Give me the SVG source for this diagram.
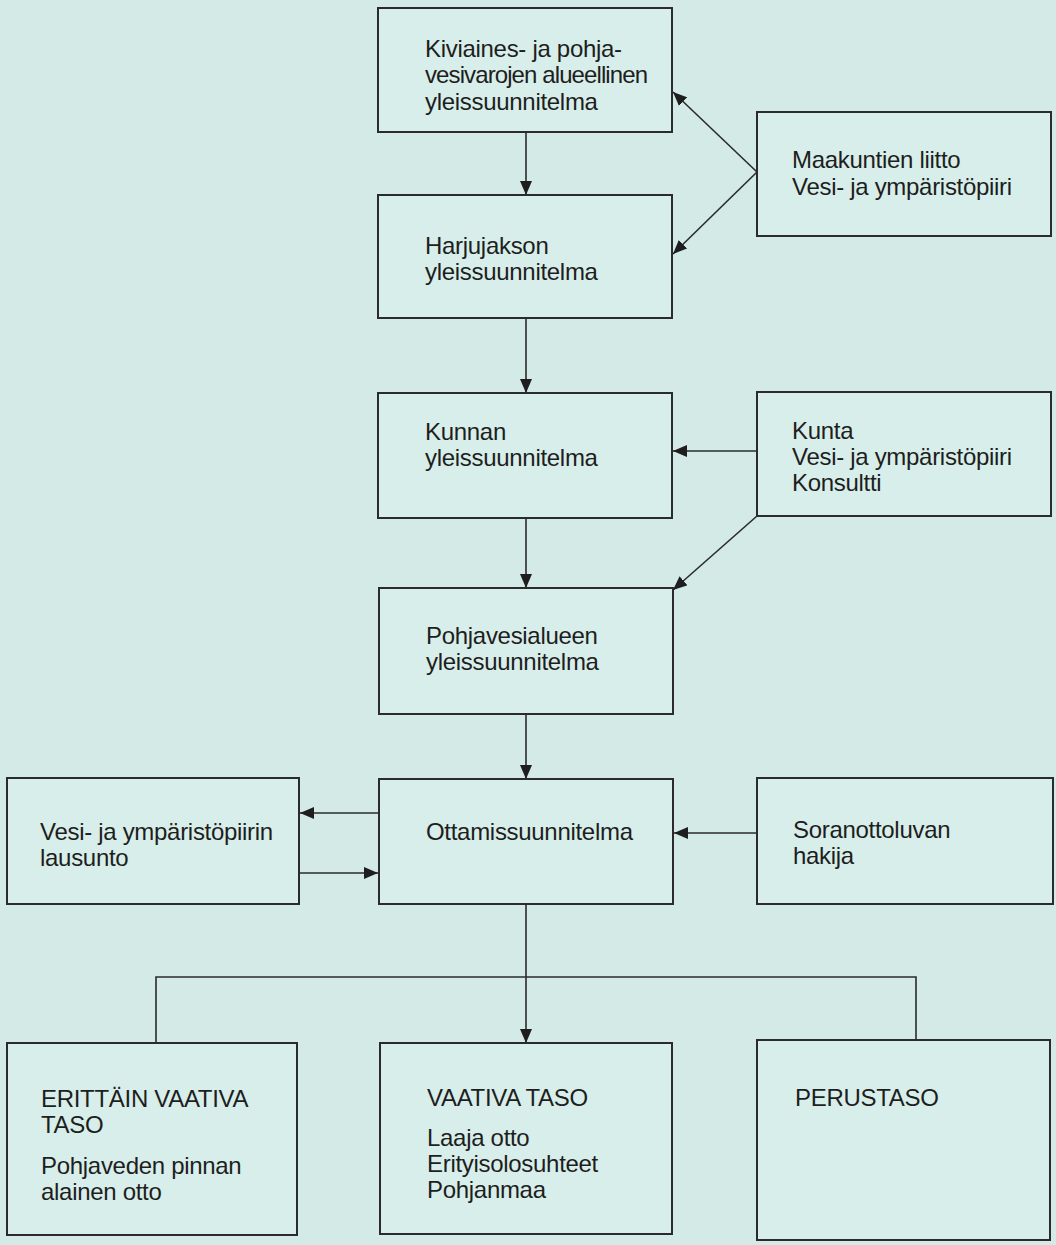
<svg xmlns="http://www.w3.org/2000/svg" width="1056" height="1245" viewBox="0 0 1056 1245">
  <style>
    .box { fill: #d8eeea; stroke: #2b2b2b; stroke-width: 2; }
    .lbl { font-family: "Liberation Sans", Arial, sans-serif; font-size: 24px; letter-spacing: -0.3px; fill: #1e1e1e; }
    .tight { letter-spacing: -0.9px; }
    .edge { fill: none; stroke: #2b2b2b; stroke-width: 1.6; }
  </style>
  <defs>
    <marker id="arrow" viewBox="0 0 14 12" refX="14" refY="6" markerWidth="14" markerHeight="12" markerUnits="userSpaceOnUse" orient="auto">
      <path d="M0,0 L14,6 L0,12 Z" fill="#1e1e1e"/>
    </marker>
  </defs>

  <rect width="1056" height="1245" fill="#d3eae6"/>

  <!-- connectors -->
  <g id="connectors">
    <line class="edge" x1="526" y1="132" x2="526" y2="195" marker-end="url(#arrow)"/>
    <line class="edge" x1="526" y1="318" x2="526" y2="393" marker-end="url(#arrow)"/>
    <line class="edge" x1="526" y1="518" x2="526" y2="588" marker-end="url(#arrow)"/>
    <line class="edge" x1="526" y1="714" x2="526" y2="779" marker-end="url(#arrow)"/>
    <line class="edge" x1="526" y1="904" x2="526" y2="1043" marker-end="url(#arrow)"/>
    <line class="edge" x1="757" y1="172" x2="673" y2="92" marker-end="url(#arrow)"/>
    <line class="edge" x1="757" y1="172" x2="673" y2="254" marker-end="url(#arrow)"/>
    <line class="edge" x1="757" y1="451" x2="673" y2="451" marker-end="url(#arrow)"/>
    <line class="edge" x1="757" y1="516" x2="673" y2="590" marker-end="url(#arrow)"/>
    <line class="edge" x1="757" y1="833" x2="674" y2="833" marker-end="url(#arrow)"/>
    <line class="edge" x1="379" y1="813" x2="300" y2="813" marker-end="url(#arrow)"/>
    <line class="edge" x1="299" y1="873" x2="378" y2="873" marker-end="url(#arrow)"/>
    <polyline class="edge" points="156,1043 156,977 916,977 916,1040"/>
  </g>

  <g id="kiviaines">
    <rect class="box" x="378" y="8" width="294" height="124"/>
    <text class="lbl" x="425" y="57">Kiviaines- ja pohja-</text>
    <text class="lbl tight" x="425" y="83">vesivarojen alueellinen</text>
    <text class="lbl" x="425" y="110">yleissuunnitelma</text>
  </g>

  <g id="maakuntien-liitto">
    <rect class="box" x="757" y="112" width="294" height="124"/>
    <text class="lbl" x="792" y="168">Maakuntien liitto</text>
    <text class="lbl" x="792" y="195">Vesi- ja ympäristöpiiri</text>
  </g>

  <g id="harjujakso">
    <rect class="box" x="378" y="195" width="294" height="123"/>
    <text class="lbl" x="425" y="254">Harjujakson</text>
    <text class="lbl" x="425" y="280">yleissuunnitelma</text>
  </g>

  <g id="kunnan">
    <rect class="box" x="378" y="393" width="294" height="125"/>
    <text class="lbl" x="425" y="440">Kunnan</text>
    <text class="lbl" x="425" y="466">yleissuunnitelma</text>
  </g>

  <g id="kunta">
    <rect class="box" x="757" y="392" width="294" height="124"/>
    <text class="lbl" x="792" y="439">Kunta</text>
    <text class="lbl" x="792" y="465">Vesi- ja ympäristöpiiri</text>
    <text class="lbl" x="792" y="491">Konsultti</text>
  </g>

  <g id="pohjavesialue">
    <rect class="box" x="379" y="588" width="294" height="126"/>
    <text class="lbl" x="426" y="644">Pohjavesialueen</text>
    <text class="lbl" x="426" y="670">yleissuunnitelma</text>
  </g>

  <g id="lausunto">
    <rect class="box" x="7" y="778" width="292" height="126"/>
    <text class="lbl" x="40" y="840">Vesi- ja ympäristöpiirin</text>
    <text class="lbl" x="40" y="866">lausunto</text>
  </g>

  <g id="ottamis">
    <rect class="box" x="379" y="779" width="294" height="125"/>
    <text class="lbl" x="426" y="840">Ottamissuunnitelma</text>
  </g>

  <g id="hakija">
    <rect class="box" x="757" y="778" width="296" height="126"/>
    <text class="lbl" x="793" y="838">Soranottoluvan</text>
    <text class="lbl" x="793" y="864">hakija</text>
  </g>

  <g id="erittain-vaativa">
    <rect class="box" x="7" y="1043" width="290" height="192"/>
    <text class="lbl" x="41" y="1107">ERITTÄIN VAATIVA</text>
    <text class="lbl" x="41" y="1133">TASO</text>
    <text class="lbl" x="41" y="1174">Pohjaveden pinnan</text>
    <text class="lbl" x="41" y="1200">alainen otto</text>
  </g>

  <g id="vaativa">
    <rect class="box" x="380" y="1043" width="292" height="191"/>
    <text class="lbl" x="427" y="1106">VAATIVA TASO</text>
    <text class="lbl" x="427" y="1146">Laaja otto</text>
    <text class="lbl" x="427" y="1172">Erityisolosuhteet</text>
    <text class="lbl" x="427" y="1198">Pohjanmaa</text>
  </g>

  <g id="perustaso">
    <rect class="box" x="757" y="1040" width="293" height="200"/>
    <text class="lbl" x="795" y="1106">PERUSTASO</text>
  </g>
</svg>
